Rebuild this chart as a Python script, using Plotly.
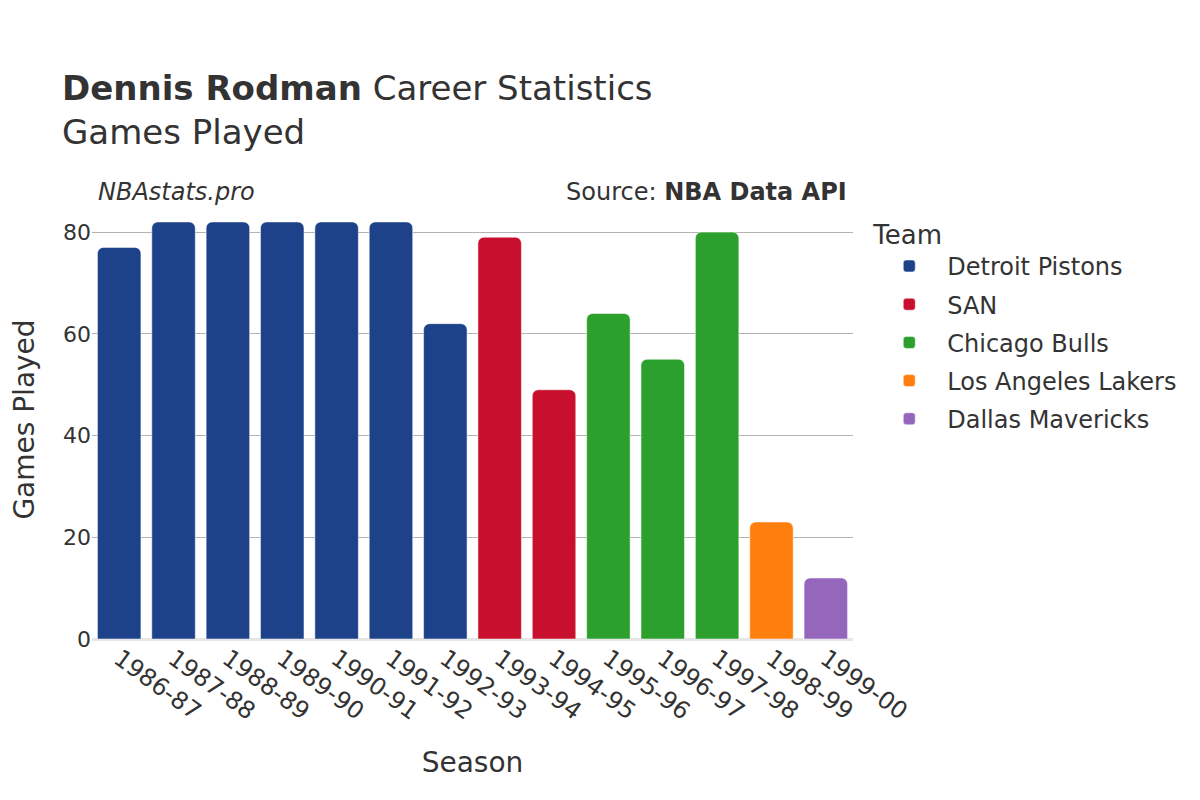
import plotly.graph_objects as go

seasons = ["1986-87", "1987-88", "1988-89", "1989-90", "1990-91", "1991-92", "1992-93",
           "1993-94", "1994-95", "1995-96", "1996-97", "1997-98", "1998-99", "1999-00"]
games = [77, 82, 82, 82, 82, 82, 62, 79, 49, 64, 55, 80, 23, 12]
teams = ["Detroit Pistons"] * 7 + ["SAN"] * 2 + ["Chicago Bulls"] * 3 + ["Los Angeles Lakers", "Dallas Mavericks"]

team_order = ["Detroit Pistons", "SAN", "Chicago Bulls", "Los Angeles Lakers", "Dallas Mavericks"]
team_colors = ["#1d428a", "#c8102e", "#2ca02c", "#ff7f0e", "#9467bd"]

fig = go.Figure()
for team, color in zip(team_order, team_colors):
    xs = [s for s, t in zip(seasons, teams) if t == team]
    ys = [g for g, t in zip(games, teams) if t == team]
    fig.add_trace(go.Bar(x=xs, y=ys, name=team, marker_color=color, legendgroup=team))

fig.update_layout(
    template="plotly_white",
    width=1200, height=800,
    font=dict(family="DejaVu Sans", size=20, color="#333333"),
    title=dict(
        text="<b>Dennis Rodman</b> Career Statistics<br>Games Played",
        x=0.045, xanchor="left", y=0.885, yanchor="top",
        font=dict(size=34, color="#333333"),
    ),
    barmode="relative",
    bargap=0.2,
    barcornerradius=6,
    margin=dict(l=84, r=355, t=192, b=169),
    legend=dict(
        title=dict(text="Team", font=dict(size=26)),
        font=dict(size=24),
        x=1.024, y=0.977, yanchor="top",
        itemwidth=66,
        tracegroupgap=4,
    ),
    xaxis=dict(
        title=dict(text="Season", font=dict(size=28), standoff=27),
        tickangle=36,
        categoryorder="array", categoryarray=seasons,
        tickfont=dict(size=24),
        automargin=False,
    ),
    yaxis=dict(
        title=dict(text="Games Played", font=dict(size=28), standoff=36),
        gridcolor="#b3b3b3",
        zerolinecolor="#e6e6e6", zerolinewidth=3,
        tickfont=dict(size=22),
        dtick=20,
        automargin=False,
    ),
    annotations=[
        dict(text="<i>NBAstats.pro</i>", xref="paper", yref="paper", x=0.005, y=1.018,
             xanchor="left", yanchor="middle", showarrow=False, font=dict(size=24)),
        dict(text="Source: <b>NBA Data API</b>", xref="paper", yref="paper", x=0.995, y=1.018,
             xanchor="right", yanchor="middle", showarrow=False, font=dict(size=24)),
    ],
)

fig.write_html("out.html")
